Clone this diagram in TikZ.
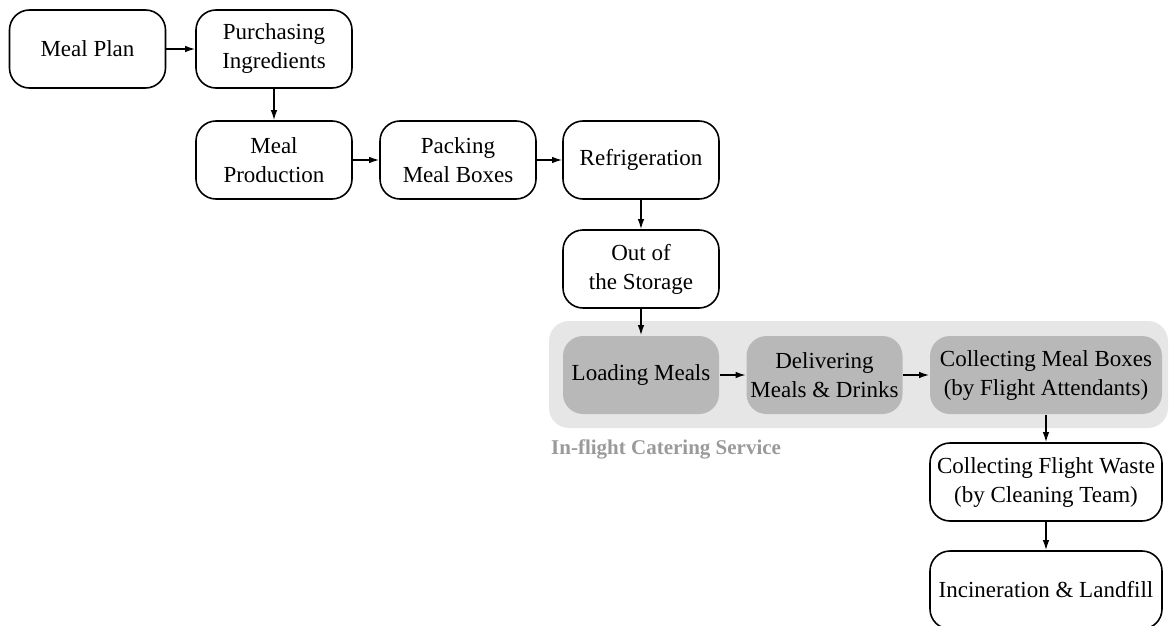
\documentclass[tikz,border=0pt]{standalone}
\usepackage{fontspec}
\setmainfont{Liberation Serif}
\usetikzlibrary{arrows.meta,positioning}
\definecolor{bglight}{HTML}{E6E6E6}
\definecolor{boxgray}{HTML}{B8B8B8}
\definecolor{labelgray}{HTML}{9A9A9A}
\begin{document}
\begin{tikzpicture}[x=1pt,y=-1pt,
  proc/.style={draw=black, line width=1.6pt, rounded corners=20pt, minimum width=156pt, minimum height=78pt,
     align=center, inner sep=2pt, font=\fontsize{23}{29}\selectfont},
  wide/.style={proc, minimum width=232pt},
  inflight/.style={proc, draw=none, fill=boxgray},
  arr/.style={-{Latex[length=10pt,width=6.5pt]}, line width=1.4pt}]
\useasboundingbox (0,0) rectangle (1170,626);
\fill[bglight, rounded corners=20pt] (549,321) rectangle (1168,428);
\node[proc] (mp) at (87.5,49) {Meal Plan};
\node[proc] (pi) at (274,49) {Purchasing\\Ingredients};
\node[proc] (mprod) at (274,160) {Meal\\Production};
\node[proc] (pack) at (458,160) {Packing\\Meal Boxes};
\node[proc] (ref) at (641,160) {Refrigeration};
\node[proc] (out) at (641,269) {Out of\\the Storage};
\node[inflight] (load) at (641,375) {Loading Meals};
\node[inflight] (deliv) at (824.5,375) {Delivering\\Meals \& Drinks};
\node[inflight, minimum width=232pt] (colmb) at (1046,375) {Collecting Meal Boxes\\(by Flight Attendants)};
\node[wide] (colfw) at (1046,482) {Collecting Flight Waste\\(by Cleaning Team)};
\node[wide] (inc) at (1046,590) {Incineration \& Landfill};
\node[anchor=west, text=labelgray, font=\fontsize{21}{25}\selectfont\bfseries, inner sep=0pt] (lbl) at (551,449) {In-flight Catering Service};
\draw[arr] (mp) -- (pi);
\draw[arr] (pi) -- (mprod);
\draw[arr] (mprod) -- (pack);
\draw[arr] (pack) -- (ref);
\draw[arr] (ref) -- (out);
\draw[arr] (out) -- (load);
\draw[arr] (load) -- (deliv);
\draw[arr] (deliv) -- (colmb);
\draw[arr] (colmb) -- (colfw);
\draw[arr] (colfw) -- (inc);
\end{tikzpicture}
\end{document}
